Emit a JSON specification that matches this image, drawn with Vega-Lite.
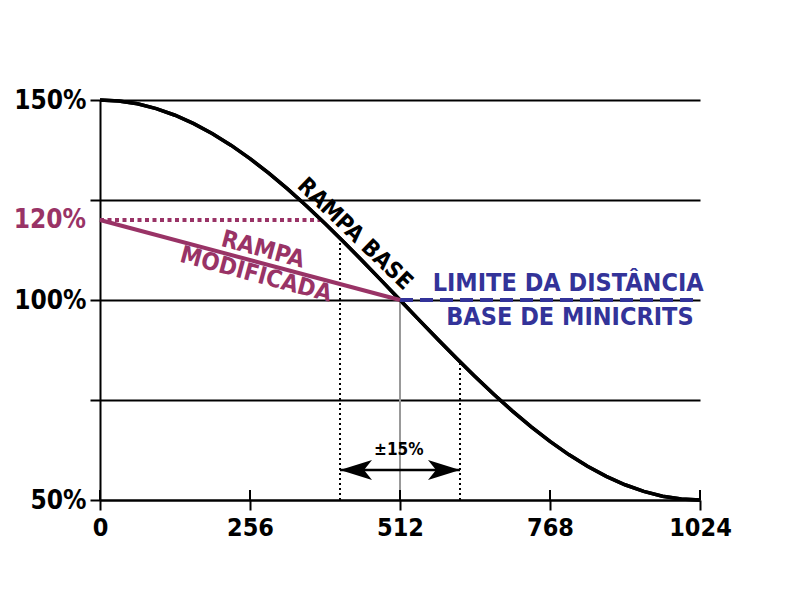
{
  "$schema": "https://vega.github.io/schema/vega-lite/v6.json",
  "width": 600,
  "height": 400,
  "autosize": {"type": "none"},
  "padding": {"left": 100, "top": 100, "right": 100, "bottom": 100},
  "background": "white",
  "config": {
    "view": {"stroke": null},
    "font": "DejaVu Sans Condensed",
    "text": {"font": "DejaVu Sans Condensed", "fontWeight": "bold"}
  },
  "datasets": {
    "curve": [
      {"x": 0, "y": 150}, {"x": 32, "y": 149.76}, {"x": 64, "y": 149.04}, {"x": 96, "y": 147.85},
      {"x": 128, "y": 146.19}, {"x": 160, "y": 144.1}, {"x": 192, "y": 141.57}, {"x": 224, "y": 138.65},
      {"x": 256, "y": 135.36}, {"x": 288, "y": 131.72}, {"x": 320, "y": 127.78}, {"x": 352, "y": 123.57},
      {"x": 384, "y": 119.13}, {"x": 416, "y": 114.51}, {"x": 448, "y": 109.75}, {"x": 480, "y": 104.9},
      {"x": 512, "y": 100}, {"x": 544, "y": 95.1}, {"x": 576, "y": 90.25}, {"x": 608, "y": 85.49},
      {"x": 640, "y": 80.87}, {"x": 672, "y": 76.43}, {"x": 704, "y": 72.22}, {"x": 736, "y": 68.28},
      {"x": 768, "y": 64.64}, {"x": 800, "y": 61.35}, {"x": 832, "y": 58.43}, {"x": 864, "y": 55.9},
      {"x": 896, "y": 53.81}, {"x": 928, "y": 52.15}, {"x": 960, "y": 50.96}, {"x": 992, "y": 50.24},
      {"x": 1024, "y": 50}
    ],
    "modified": [{"x": 0, "y": 120}, {"x": 512, "y": 100}],
    "dotMag": [{"x": 0, "x2": 377.8, "y": 120}],
    "dotBlack": [{"x": 409.6, "y": 50, "y2": 115.45}, {"x": 614.4, "y": 50, "y2": 84.55}],
    "gray": [{"x": 512, "y": 50, "y2": 100}],
    "blue": [{"x": 512, "x2": 1024, "y": 100}],
    "arrow": [{"x": 409.6, "x2": 614.4, "y": 57.5}],
    "heads": [{"x": 409.6, "y": 57.5, "dir": "left"}, {"x": 614.4, "y": 57.5, "dir": "right"}],
    "innerTicks": [
      {"x": 0, "y": 50, "y2": 52.5}, {"x": 256, "y": 50, "y2": 52.5}, {"x": 512, "y": 50, "y2": 52.5},
      {"x": 768, "y": 50, "y2": 52.5}, {"x": 1024, "y": 50, "y2": 52.5}
    ],
    "labelsBlack": [
      {"x": 435, "y": 116.5, "text": "RAMPA BASE"}
    ],
    "labelsMag": [
      {"x": 278, "y": 112.5, "text": "RAMPA"},
      {"x": 266, "y": 106.25, "text": "MODIFICADA"}
    ],
    "labelsBlue": [
      {"x": 799, "y": 104.25, "text": "LIMITE DA DISTÂNCIA"},
      {"x": 802, "y": 95.75, "text": "BASE DE MINICRITS"}
    ],
    "pct": [{"x": 510, "y": 62.5, "text": "±15%"}],
    "y120": [{"x": 0, "y": 120, "text": "120%"}]
  },
  "layer": [
    {
      "data": {"name": "curve"},
      "mark": {"type": "line", "color": "black", "strokeWidth": 3.5, "clip": false},
      "encoding": {
        "x": {
          "field": "x", "type": "quantitative",
          "scale": {"domain": [0, 1024], "nice": false, "zero": false},
          "axis": {
            "title": null, "values": [0, 256, 512, 768, 1024], "grid": false, "format": "d",
            "domainColor": "black", "domainWidth": 2, "tickColor": "black", "tickWidth": 2, "tickSize": 10,
            "labelFont": "DejaVu Sans Condensed", "labelFontWeight": "bold", "labelFontSize": 25,
            "labelColor": "black", "labelPadding": 5, "labelFlush": false, "labelOverlap": false
          }
        },
        "y": {
          "field": "y", "type": "quantitative",
          "scale": {"domain": [50, 150], "nice": false, "zero": false},
          "axis": {
            "title": null, "values": [50, 75, 100, 125, 150], "grid": true,
            "gridColor": "black", "gridWidth": 2, "gridOpacity": 1,
            "domainColor": "black", "domainWidth": 2, "tickColor": "black", "tickWidth": 2, "tickSize": 10,
            "labelExpr": "datum.value == 50 || datum.value == 100 || datum.value == 150 ? datum.value + '%' : ''",
            "labelFont": "DejaVu Sans Condensed", "labelFontWeight": "bold", "labelFontSize": 26,
            "labelColor": "black", "labelPadding": 4, "labelFlush": false, "labelOverlap": false
          }
        }
      }
    },
    {
      "data": {"name": "dotMag"},
      "mark": {"type": "rule", "color": "#993366", "strokeWidth": 4, "strokeDash": [4, 3.5]},
      "encoding": {
        "x": {"field": "x", "type": "quantitative", "title": null},
        "x2": {"field": "x2"},
        "y": {"field": "y", "type": "quantitative", "title": null}
      }
    },
    {
      "data": {"name": "dotBlack"},
      "mark": {"type": "rule", "color": "black", "strokeWidth": 2, "strokeDash": [2, 3]},
      "encoding": {
        "x": {"field": "x", "type": "quantitative", "title": null},
        "y": {"field": "y", "type": "quantitative", "title": null},
        "y2": {"field": "y2"}
      }
    },
    {
      "data": {"name": "gray"},
      "mark": {"type": "rule", "color": "#999999", "strokeWidth": 2},
      "encoding": {
        "x": {"field": "x", "type": "quantitative", "title": null},
        "y": {"field": "y", "type": "quantitative", "title": null},
        "y2": {"field": "y2"}
      }
    },
    {
      "data": {"name": "innerTicks"},
      "mark": {"type": "rule", "color": "black", "strokeWidth": 2},
      "encoding": {
        "x": {"field": "x", "type": "quantitative", "title": null},
        "y": {"field": "y", "type": "quantitative", "title": null},
        "y2": {"field": "y2"}
      }
    },
    {
      "data": {"name": "curve"},
      "mark": {"type": "line", "color": "black", "strokeWidth": 3.5},
      "encoding": {
        "x": {"field": "x", "type": "quantitative", "title": null},
        "y": {"field": "y", "type": "quantitative", "title": null}
      }
    },
    {
      "data": {"name": "blue"},
      "mark": {"type": "rule", "color": "#333399", "strokeWidth": 4, "strokeDash": [13, 7]},
      "encoding": {
        "x": {"field": "x", "type": "quantitative", "title": null},
        "x2": {"field": "x2"},
        "y": {"field": "y", "type": "quantitative", "title": null}
      }
    },
    {
      "data": {"name": "modified"},
      "mark": {"type": "line", "color": "#993366", "strokeWidth": 4},
      "encoding": {
        "x": {"field": "x", "type": "quantitative", "title": null},
        "y": {"field": "y", "type": "quantitative", "title": null}
      }
    },
    {
      "data": {"name": "arrow"},
      "mark": {"type": "rule", "color": "black", "strokeWidth": 2.5},
      "encoding": {
        "x": {"field": "x", "type": "quantitative", "title": null},
        "x2": {"field": "x2"},
        "y": {"field": "y", "type": "quantitative", "title": null}
      }
    },
    {
      "data": {"name": "heads"},
      "transform": [{"filter": "datum.dir == 'left'"}],
      "mark": {"type": "point", "filled": true, "color": "black", "opacity": 1, "size": 1024,
               "shape": "M 0 0 L 2 -0.625 L 1.5 0 L 2 0.625 Z"},
      "encoding": {
        "x": {"field": "x", "type": "quantitative", "title": null},
        "y": {"field": "y", "type": "quantitative", "title": null}
      }
    },
    {
      "data": {"name": "heads"},
      "transform": [{"filter": "datum.dir == 'right'"}],
      "mark": {"type": "point", "filled": true, "color": "black", "opacity": 1, "size": 1024,
               "shape": "M 0 0 L -2 -0.625 L -1.5 0 L -2 0.625 Z"},
      "encoding": {
        "x": {"field": "x", "type": "quantitative", "title": null},
        "y": {"field": "y", "type": "quantitative", "title": null}
      }
    },
    {
      "data": {"name": "labelsBlack"},
      "mark": {"type": "text", "color": "black", "fontSize": 23, "angle": 44, "align": "center", "baseline": "middle"},
      "encoding": {
        "x": {"field": "x", "type": "quantitative", "title": null},
        "y": {"field": "y", "type": "quantitative", "title": null},
        "text": {"field": "text"}
      }
    },
    {
      "data": {"name": "labelsMag"},
      "mark": {"type": "text", "color": "#993366", "fontSize": 24, "angle": 15, "align": "center", "baseline": "middle"},
      "encoding": {
        "x": {"field": "x", "type": "quantitative", "title": null},
        "y": {"field": "y", "type": "quantitative", "title": null},
        "text": {"field": "text"}
      }
    },
    {
      "data": {"name": "labelsBlue"},
      "mark": {"type": "text", "color": "#333399", "fontSize": 25, "align": "center", "baseline": "middle"},
      "encoding": {
        "x": {"field": "x", "type": "quantitative", "title": null},
        "y": {"field": "y", "type": "quantitative", "title": null},
        "text": {"field": "text"}
      }
    },
    {
      "data": {"name": "pct"},
      "mark": {"type": "text", "color": "black", "fontSize": 17, "align": "center", "baseline": "middle"},
      "encoding": {
        "x": {"field": "x", "type": "quantitative", "title": null},
        "y": {"field": "y", "type": "quantitative", "title": null},
        "text": {"field": "text"}
      }
    },
    {
      "data": {"name": "y120"},
      "mark": {"type": "text", "color": "#993366", "fontSize": 26, "align": "right", "baseline": "middle", "dx": -14},
      "encoding": {
        "x": {"field": "x", "type": "quantitative", "title": null},
        "y": {"field": "y", "type": "quantitative", "title": null},
        "text": {"field": "text"}
      }
    }
  ]
}
